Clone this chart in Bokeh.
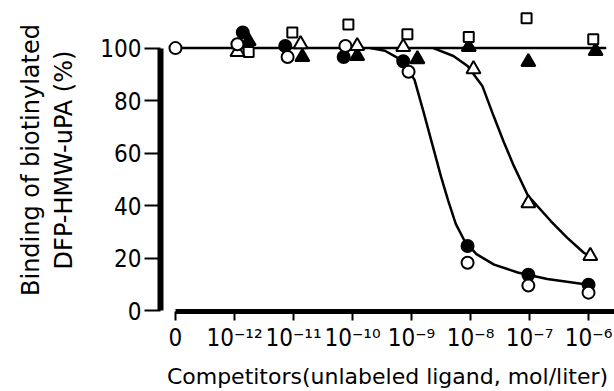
from bokeh.plotting import figure
from bokeh.models import Range1d, FixedTicker
from bokeh.embed import file_html
from bokeh.resources import INLINE

# x positions: 0 = no competitor, 1 = 1e-12 M, ..., 7 = 1e-6 M
x_ticks = [0, 1, 2, 3, 4, 5, 6, 7]
x_tick_labels = ["0", "10⁻¹²", "10⁻¹¹", "10⁻¹⁰", "10⁻⁹", "10⁻⁸", "10⁻⁷", "10⁻⁶"]
y_ticks = [0, 20, 40, 60, 80, 100]

open_circle_x = [0.0, 1.05, 1.90, 2.88, 3.95, 4.95, 5.98, 7.00]
open_circle_y = [100, 101.5, 96.6, 100.8, 91.0, 18.2, 9.5, 6.8]

filled_circle_x = [1.14, 1.86, 2.85, 3.86, 4.95, 5.98, 7.00]
filled_circle_y = [106, 100.8, 96.6, 95.0, 24.6, 13.6, 9.8]

open_triangle_x = [1.05, 2.12, 3.08, 3.86, 5.05, 5.98, 7.03]
open_triangle_y = [98.5, 101.5, 100.8, 100.4, 92.0, 40.9, 20.8]

filled_triangle_x = [1.24, 2.15, 3.08, 4.10, 4.97, 5.98, 7.12]
filled_triangle_y = [102.7, 96.6, 97.0, 95.8, 100.4, 94.7, 98.9]

open_square_x = [1.24, 1.98, 2.93, 3.93, 4.97, 5.95, 7.08]
open_square_y = [98.5, 106, 109, 105.3, 104.2, 111.4, 103.4]

flat_x = [0.0, 7.3]
flat_y = [100, 100]

circle_curve_x = [3.3, 3.55, 3.75, 3.9, 4.05, 4.2, 4.35, 4.5, 4.62, 4.75, 4.9, 5.1, 5.4, 5.8, 6.3, 7.0]
circle_curve_y = [100, 99, 96.5, 93, 88, 76, 63.5, 51, 42, 33, 26.5, 21.5, 17.5, 14.5, 12, 9.8]

triangle_curve_x = [4.37, 4.71, 4.95, 5.20, 5.39, 5.56, 5.73, 5.97, 6.36, 6.64, 6.92, 7.08]
triangle_curve_y = [100, 97, 93.2, 85.6, 74.2, 64.4, 55.3, 43.9, 34.1, 27.7, 22, 20]

p = figure(width=614, height=391, output_backend="svg", toolbar_location=None,
           x_range=Range1d(-0.254, 7.44), y_range=Range1d(-0.38, 115.1),
           min_border_left=160, min_border_right=0, min_border_top=8, min_border_bottom=77)
p.outline_line_color = None
p.xgrid.visible = False
p.ygrid.visible = False
p.background_fill_color = "white"

tick_font = "DejaVu Sans Condensed, DejaVu Sans"

xa = p.xaxis[0]
xa.ticker = FixedTicker(ticks=x_ticks)
xa.major_label_overrides = {t: l for t, l in zip(x_ticks, x_tick_labels)}
xa.bounds = (0, 7.44)
xa.axis_line_width = 5
xa.major_tick_line_width = 2
xa.major_tick_out = 9
xa.major_tick_in = 0
xa.minor_tick_line_color = None
xa.major_label_text_font = tick_font
xa.major_label_text_font_size = "24px"
xa.major_label_text_color = "black"
xa.major_label_standoff = 3
xa.axis_label = "Competitors(unlabeled ligand, mol/liter)"
xa.axis_label_text_font = "DejaVu Sans"
xa.axis_label_text_font_style = "normal"
xa.axis_label_text_font_size = "22px"
xa.axis_label_text_color = "black"
xa.axis_label_standoff = 9

ya = p.yaxis[0]
ya.ticker = FixedTicker(ticks=y_ticks)
ya.bounds = (0, 100)
ya.axis_line_width = 6
ya.major_tick_line_width = 2
ya.major_tick_out = 16
ya.major_tick_in = 0
ya.minor_tick_line_color = None
ya.major_label_text_font = tick_font
ya.major_label_text_font_size = "24px"
ya.major_label_text_color = "black"
ya.major_label_standoff = 3
ya.axis_label = "Binding of biotinylated\nDFP-HMW-uPA (%)"
ya.axis_label_text_font = "DejaVu Sans"
ya.axis_label_text_font_style = "normal"
ya.axis_label_text_font_size = "24px"
ya.axis_label_text_color = "black"
ya.axis_label_standoff = 19

p.line(flat_x, flat_y, line_color="black", line_width=2.5)
p.line(circle_curve_x, circle_curve_y, line_color="black", line_width=2.5)
p.line(triangle_curve_x, triangle_curve_y, line_color="black", line_width=2.5)

p.scatter(filled_circle_x, filled_circle_y, marker="circle", size=12,
          fill_color="black", line_color="black", line_width=2)
p.scatter(filled_triangle_x, filled_triangle_y, marker="triangle", size=14,
          fill_color="black", line_color="black", line_width=2)
p.scatter(open_square_x, open_square_y, marker="square", size=10,
          fill_color="white", line_color="black", line_width=2)
p.scatter(open_triangle_x, open_triangle_y, marker="triangle", size=14,
          fill_color="white", line_color="black", line_width=2)
p.scatter(open_circle_x, open_circle_y, marker="circle", size=12,
          fill_color="white", line_color="black", line_width=2)

open("out.html", "w").write(file_html(p, INLINE))
